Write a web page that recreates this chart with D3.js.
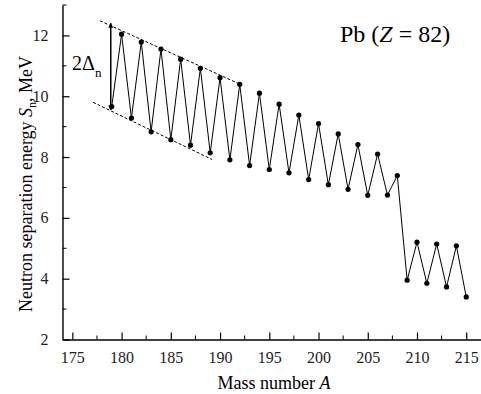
<!DOCTYPE html>
<html>
<head>
<meta charset="utf-8">
<script src="https://cdn.jsdelivr.net/npm/d3@7"></script>
<style>
  body { margin: 0; background: #fff; }
  svg, svg text { font-family: "Liberation Serif", "Times New Roman", serif; }
  svg { display: block; }
</style>
</head>
<body>
<div id="chart"></div>
<script>
// mass numbers and neutron separation energies (MeV) for Pb
let massNumbers = d3.range(179, 216);
let sn = [9.66, 12.04, 9.28, 11.78, 8.83, 11.55, 8.57, 11.22, 8.39, 10.92,
          8.14, 10.61, 7.91, 10.39, 7.72, 10.10, 7.59, 9.74, 7.48, 9.38,
          7.26, 9.10, 7.09, 8.76, 6.94, 8.41, 6.74, 8.10, 6.75, 7.39,
          3.95, 5.20, 3.85, 5.14, 3.73, 5.08, 3.40];
let xTicks = [175, 180, 185, 190, 195, 200, 205, 210, 215];
let yTicks = [2, 4, 6, 8, 10, 12];
// guide lines through the odd-even staggering (A, Sn)
let upperGuide = [[177.8, 12.48], [192.0, 10.40]];
let lowerGuide = [[177.1, 9.80], [189.2, 7.92]];
let gapArrow = [[178.9, 12.40], [178.9, 9.55]];

let width = 481, height = 394;

let svg = d3.select("#chart")
  .append("svg")
  .attr("width", width)
  .attr("height", height);

let x = d3.scaleLinear().domain([174, 216.5]).range([62.5, 481]);
let y = d3.scaleLinear().domain([2, 13]).range([339.5, 5]);

svg.append("defs").append("marker")
  .attr("id", "head")
  .attr("viewBox", "0 0 10 10")
  .attr("refX", 9).attr("refY", 5)
  .attr("markerWidth", 5).attr("markerHeight", 7)
  .attr("markerUnits", "userSpaceOnUse")
  .attr("orient", "auto-start-reverse")
  .append("path")
    .attr("d", "M0,0 L10,5 L0,10 Z")
    .attr("fill", "#000");

// x axis, ticks pointing in
let xAxis = svg.append("g")
  .attr("transform", "translate(0," + y(2) + ")")
  .call(d3.axisBottom(x).tickValues(xTicks).tickSizeInner(-7).tickSizeOuter(0).tickPadding(12));
xAxis.selectAll(".minor")
  .data(d3.range(177.5, 216, 5))
  .enter().append("line")
  .attr("class", "minor")
  .attr("x1", d => x(d)).attr("x2", d => x(d))
  .attr("y1", 0).attr("y2", -4)
  .attr("stroke", "#000");

let yAxis = svg.append("g")
  .attr("transform", "translate(" + x(174) + ",0)")
  .call(d3.axisLeft(y).tickValues(yTicks).tickSizeInner(-7).tickSizeOuter(0).tickPadding(14));
yAxis.selectAll(".minor")
  .data([3, 5, 7, 9, 11, 13])
  .enter().append("line")
  .attr("class", "minor")
  .attr("y1", d => y(d)).attr("y2", d => y(d))
  .attr("x1", 0).attr("x2", 4)
  .attr("stroke", "#000");

[xAxis, yAxis].forEach(a => a.attr("font-family", null).attr("font-size", null));
svg.selectAll(".domain").attr("stroke-width", 1.4);
svg.selectAll(".tick line").attr("stroke-width", 1.2);
svg.selectAll(".tick text")
  .style("font-family", "'Liberation Serif', serif")
  .attr("font-size", 16)
  .attr("fill", "#222");

// data line and points
let line = d3.line()
  .x((d, i) => x(massNumbers[i]))
  .y(d => y(d));

svg.append("path")
  .datum(sn)
  .attr("d", line)
  .attr("fill", "none")
  .attr("stroke", "#000")
  .attr("stroke-width", 1);

svg.selectAll("circle.pt")
  .data(sn)
  .enter().append("circle")
  .attr("class", "pt")
  .attr("cx", (d, i) => x(massNumbers[i]))
  .attr("cy", d => y(d))
  .attr("r", 2.6)
  .attr("fill", "#000");

// dashed guides
let guide = d3.line().x(d => x(d[0])).y(d => y(d[1]));
[upperGuide, lowerGuide].forEach(g => {
  svg.append("path")
    .attr("d", guide(g))
    .attr("fill", "none")
    .attr("stroke", "#000")
    .attr("stroke-width", 1)
    .attr("stroke-dasharray", "3,2");
});

// 2 Delta_n arrow
svg.append("path")
  .attr("d", guide(gapArrow))
  .attr("stroke", "#000")
  .attr("stroke-width", 1.5)
  .attr("marker-start", "url(#head)")
  .attr("marker-end", "url(#head)");

let gapLabel = svg.append("text")
  .attr("x", 72)
  .attr("y", 70)
  .attr("font-size", 20);
gapLabel.append("tspan").text("2\u0394");
gapLabel.append("tspan").attr("font-size", 13).attr("dy", 7).text("n");

// element label
let pb = svg.append("text")
  .attr("x", 340)
  .attr("y", 42)
  .attr("font-size", 24);
pb.append("tspan").text("Pb (");
pb.append("tspan").attr("font-style", "italic").text("Z");
pb.append("tspan").text(" = 82)");

// axis titles
let xt = svg.append("text")
  .attr("x", 274)
  .attr("y", 389)
  .attr("text-anchor", "middle")
  .attr("font-size", 18);
xt.append("tspan").text("Mass number ");
xt.append("tspan").attr("font-style", "italic").text("A");

let yt = svg.append("text")
  .attr("transform", "translate(32,184) rotate(-90)")
  .attr("text-anchor", "middle")
  .attr("font-size", 18);
yt.append("tspan").text("Neutron separation energy ");
yt.append("tspan").attr("font-style", "italic").text("S");
yt.append("tspan").attr("font-size", 12).attr("dy", 4).text("n");
yt.append("tspan").attr("dy", -4).text(", MeV");
</script>
</body>
</html>
